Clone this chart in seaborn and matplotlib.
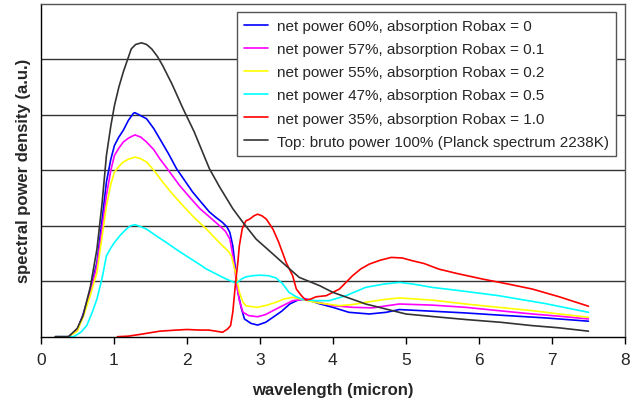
import pandas as pd
import numpy as np
import seaborn as sns
import matplotlib.pyplot as plt

# Data (wavelength in micron, power in a.u.)
x_planck = [0.2, 0.38, 0.5, 0.58, 0.68, 0.77, 0.84, 0.90, 0.96, 1.01, 1.07, 1.13, 1.19, 1.24,
            1.30, 1.38, 1.45, 1.52, 1.60, 1.67, 1.80, 1.95, 2.10, 2.31, 2.45, 2.63, 2.77, 2.95,
            3.13, 3.41, 3.54, 3.82, 4.0, 4.45, 5.0, 5.4, 5.82, 6.3, 6.73, 7.1, 7.5]
y_planck = [0, 0, 0.15, 0.38, 0.9, 1.58, 2.4, 3.27, 3.8, 4.17, 4.5, 4.77, 5.0, 5.19,
            5.27, 5.30, 5.27, 5.19, 5.05, 4.89, 4.55, 4.11, 3.70, 3.03, 2.70, 2.31, 2.06, 1.76,
            1.55, 1.22, 1.07, 0.92, 0.80, 0.59, 0.41, 0.36, 0.31, 0.26, 0.20, 0.16, 0.10]

x_r0 = [0.2, 0.38, 0.5, 0.58, 0.68, 0.77, 0.84, 0.90, 0.96, 1.01, 1.07, 1.13, 1.20, 1.27, 1.29,
        1.35, 1.45, 1.55, 1.63, 1.75, 1.86, 1.97, 2.08, 2.2, 2.31, 2.40, 2.49, 2.55, 2.59, 2.63,
        2.66, 2.70, 2.75, 2.79, 2.88, 2.97, 3.08, 3.18, 3.30, 3.41, 3.52, 3.63, 3.8, 4.0, 4.22,
        4.5, 4.73, 4.91, 5.36, 5.8, 6.27, 6.9, 7.5]
y_r0 = [0, 0, 0.12, 0.4, 0.85, 1.34, 2.1, 2.79, 3.2, 3.45, 3.6, 3.72, 3.9, 4.03, 4.04,
        4.0, 3.93, 3.75, 3.57, 3.3, 3.03, 2.82, 2.61, 2.42, 2.25, 2.15, 2.06, 1.98, 1.88, 1.64,
        1.3, 0.80, 0.5, 0.32, 0.24, 0.21, 0.26, 0.35, 0.46, 0.59, 0.66, 0.68, 0.6, 0.53, 0.44,
        0.41, 0.44, 0.49, 0.46, 0.43, 0.39, 0.34, 0.28]

x_r01 = [0.2, 0.38, 0.5, 0.58, 0.68, 0.77, 0.84, 0.90, 0.96, 1.01, 1.07, 1.13, 1.20, 1.29, 1.37,
         1.45, 1.55, 1.63, 1.75, 1.90, 2.05, 2.18, 2.32, 2.45, 2.53, 2.59, 2.64, 2.68, 2.72, 2.77,
         2.85, 2.97, 3.08, 3.18, 3.30, 3.45, 3.63, 3.8, 4.0, 4.27, 4.54, 4.75, 4.91, 5.36, 5.82,
         6.27, 6.73, 7.1, 7.5]
y_r01 = [0, 0, 0.12, 0.38, 0.8, 1.28, 1.95, 2.55, 3.0, 3.27, 3.4, 3.51, 3.58, 3.64, 3.6,
         3.51, 3.37, 3.21, 3.0, 2.73, 2.5, 2.31, 2.15, 2.0, 1.9, 1.76, 1.4, 0.98, 0.65, 0.44,
         0.38, 0.36, 0.40, 0.47, 0.55, 0.65, 0.68, 0.62, 0.56, 0.53, 0.52, 0.56, 0.59, 0.57, 0.53,
         0.47, 0.41, 0.37, 0.32]

x_r02 = [0.2, 0.38, 0.5, 0.58, 0.68, 0.77, 0.84, 0.90, 0.96, 1.01, 1.07, 1.13, 1.20, 1.29, 1.37,
         1.45, 1.55, 1.67, 1.80, 1.95, 2.10, 2.27, 2.40, 2.49, 2.57, 2.61, 2.66, 2.72, 2.77, 2.81,
         2.90, 2.97, 3.10, 3.22, 3.33, 3.45, 3.59, 3.8, 4.09, 4.27, 4.45, 4.7, 4.91, 5.36, 5.82,
         6.27, 6.73, 7.1, 7.5]
y_r02 = [0, 0, 0.1, 0.35, 0.75, 1.16, 1.8, 2.36, 2.75, 2.97, 3.07, 3.15, 3.2, 3.24, 3.21,
         3.15, 3.0, 2.79, 2.58, 2.36, 2.15, 1.94, 1.76, 1.64, 1.54, 1.46, 1.2, 0.80, 0.62, 0.56,
         0.54, 0.53, 0.57, 0.62, 0.68, 0.71, 0.67, 0.61, 0.56, 0.58, 0.62, 0.67, 0.70, 0.66, 0.59,
         0.53, 0.47, 0.41, 0.35]

x_r05 = [0.2, 0.45, 0.55, 0.63, 0.70, 0.77, 0.84, 0.90, 0.96, 1.01, 1.09, 1.17, 1.23, 1.29, 1.36,
         1.45, 1.58, 1.72, 1.85, 1.99, 2.18, 2.27, 2.45, 2.54, 2.65, 2.68, 2.75, 2.81, 2.9, 3.0,
         3.12, 3.22, 3.31, 3.40, 3.50, 3.59, 3.77, 3.95, 4.18, 4.45, 4.7, 4.91, 5.1, 5.36, 5.8,
         6.27, 6.9, 7.5]
y_r05 = [0, 0, 0.08, 0.2, 0.42, 0.68, 1.05, 1.46, 1.6, 1.70, 1.83, 1.94, 2.0, 2.02, 1.99,
         1.94, 1.82, 1.70, 1.58, 1.46, 1.30, 1.22, 1.10, 1.04, 0.98, 0.97, 1.04, 1.08, 1.10, 1.11,
         1.10, 1.06, 0.96, 0.80, 0.72, 0.67, 0.65, 0.65, 0.74, 0.89, 0.95, 0.98, 0.95, 0.89, 0.82,
         0.74, 0.60, 0.44]

x_r10 = [1.05, 1.2, 1.40, 1.63, 1.86, 2.0, 2.18, 2.30, 2.40, 2.49, 2.56, 2.60, 2.63, 2.67, 2.70,
         2.72, 2.76, 2.81, 2.86, 2.92, 2.97, 3.03, 3.09, 3.18, 3.26, 3.36, 3.45, 3.50, 3.57, 3.63,
         3.70, 3.77, 3.91, 4.0, 4.09, 4.18, 4.27, 4.38, 4.5, 4.65, 4.80, 4.95, 5.09, 5.25, 5.45,
         5.7, 6.05, 6.4, 6.73, 7.1, 7.5]
y_r10 = [0, 0.01, 0.05, 0.10, 0.12, 0.13, 0.12, 0.12, 0.10, 0.08, 0.14, 0.2, 0.44, 1.0, 1.35,
         1.64, 1.95, 2.09, 2.12, 2.18, 2.21, 2.18, 2.12, 1.94, 1.70, 1.34, 1.10, 0.86, 0.74, 0.66,
         0.68, 0.72, 0.74, 0.80, 0.86, 0.98, 1.10, 1.22, 1.31, 1.38, 1.43, 1.42, 1.37, 1.32, 1.22,
         1.14, 1.04, 0.95, 0.86, 0.72, 0.55]

labels = [
    "net power 60%, absorption Robax = 0",
    "net power 57%, absorption Robax = 0.1",
    "net power 55%, absorption Robax = 0.2",
    "net power 47%, absorption Robax = 0.5",
    "net power 35%, absorption Robax = 1.0",
    "Top: bruto power 100% (Planck spectrum 2238K)",
]
colors = ["#0000ff", "#ff00ff", "#ffff00", "#00ffff", "#ff0000", "#333333"]
xs = [x_r0, x_r01, x_r02, x_r05, x_r10, x_planck]
ys = [y_r0, y_r01, y_r02, y_r05, y_r10, y_planck]

frames = [pd.DataFrame({"wavelength": x, "power": y, "series": lab})
          for x, y, lab in zip(xs, ys, labels)]
df = pd.concat(frames, ignore_index=True)

sns.set_theme(style="white")
plt.rcParams["font.family"] = ["Liberation Sans", "DejaVu Sans"]

fig = plt.figure(figsize=(6.3, 4.1), dpi=100)
ax = fig.add_axes([0.0646, 0.1763, 0.9274, 0.8115])

for y in range(1, 6):
    ax.axhline(y, color="#333333", lw=1.0, zorder=0)

sns.lineplot(data=df, x="wavelength", y="power", hue="series", hue_order=labels,
             palette=dict(zip(labels, colors)), estimator=None, sort=False,
             linewidth=1.2, ax=ax)

ax.set_xlim(0, 8)
ax.set_ylim(0, 6)
ax.set_xticks(range(0, 9))
ax.set_yticks([])
ax.tick_params(axis="x", direction="out", length=5, width=1, color="black",
               labelsize=12.5, pad=6, bottom=True)
ax.set_xlabel("wavelength (micron)", fontsize=12, fontweight="bold", labelpad=11)
ax.set_ylabel("spectral power density (a.u.)", fontsize=12, fontweight="bold", labelpad=7)

for side in ["left", "bottom"]:
    ax.spines[side].set_color("black")
    ax.spines[side].set_linewidth(1.0)
for side in ["top", "right"]:
    ax.spines[side].set_color("#555555")
    ax.spines[side].set_linewidth(1.0)

leg = ax.legend(loc="upper right", bbox_to_anchor=(0.985, 0.976), borderaxespad=0,
                fontsize=11, handlelength=1.6, labelspacing=0.6, fancybox=False,
                framealpha=1, edgecolor="#555555", borderpad=0.45, handletextpad=0.6)
leg.get_frame().set_linewidth(1.0)
for line in leg.get_lines():
    line.set_linewidth(1.2)

plt.savefig("out.png", dpi=100)
